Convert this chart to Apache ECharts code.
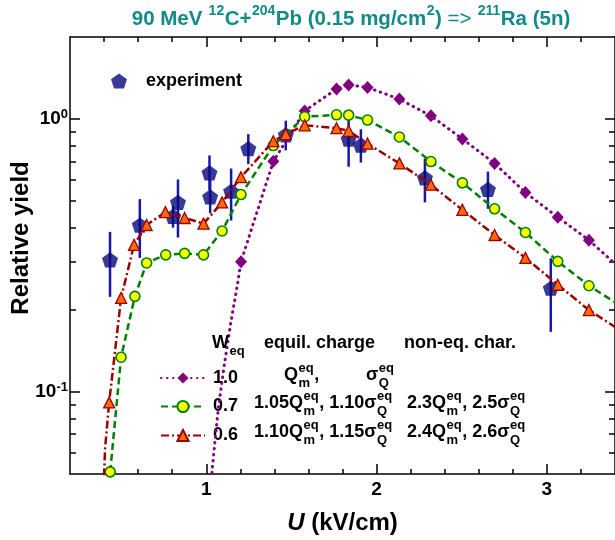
<!DOCTYPE html>
<html><head><meta charset="utf-8">
<script src="https://cdn.jsdelivr.net/npm/echarts@6/dist/echarts.min.js"></script>
<style>html,body{margin:0;padding:0;background:#fff}#c{width:615px;height:540px}</style>
</head><body><div id="c"></div>
<script>
// ---------------- data ----------------
const expX  = [0.435, 0.610, 0.805, 0.834, 1.019, 1.023, 1.146, 1.247, 1.467, 1.836, 1.908, 2.284, 2.654, 3.023];
const expY  = [0.305, 0.409, 0.440, 0.495, 0.635, 0.519, 0.544, 0.780, 0.876, 0.845, 0.803, 0.609, 0.553, 0.240];
const expLo = [0.223, 0.310, 0.400, 0.368, 0.550, 0.452, 0.425, 0.684, 0.768, 0.669, 0.693, 0.495, 0.469, 0.166];
const expHi = [0.386, 0.509, 0.480, 0.601, 0.736, 0.600, 0.659, 0.881, 0.987, 1.000, 0.918, 0.717, 0.642, 0.309];

// W_eq = 1.0 (marked points and curve-only points)
const w10X = [1.204, 1.394, 1.578, 1.765, 1.836, 1.947, 2.134, 2.319, 2.504, 2.693, 2.874, 3.064, 3.247];
const w10Y = [0.300, 0.700, 1.072, 1.289, 1.335, 1.307, 1.184, 1.028, 0.846, 0.688, 0.538, 0.437, 0.360];
const w10CurveX = [1.030, 1.048, 1.072, 1.107, 1.146, 1.183, 3.400];
const w10CurveY = [0.048, 0.063, 0.088, 0.127, 0.182, 0.247, 0.295];

// W_eq = 0.7
const w07X = [0.436, 0.500, 0.581, 0.650, 0.762, 0.873, 0.984, 1.093, 1.204, 1.394, 1.578, 1.765, 1.836, 1.947, 2.134, 2.319, 2.504, 2.693, 2.874, 3.064, 3.247];
const w07Y = [0.0509, 0.134, 0.224, 0.297, 0.318, 0.322, 0.318, 0.389, 0.529, 0.800, 1.020, 1.037, 1.034, 0.992, 0.860, 0.699, 0.584, 0.469, 0.384, 0.301, 0.245];
const w07CurveX = [3.400];
const w07CurveY = [0.213];

// W_eq = 0.6
const w06X = [0.430, 0.500, 0.576, 0.650, 0.760, 0.873, 0.984, 1.093, 1.204, 1.394, 1.467, 1.578, 1.765, 1.836, 1.947, 2.134, 2.319, 2.504, 2.693, 2.874, 3.064, 3.247];
const w06Y = [0.0915, 0.221, 0.346, 0.409, 0.456, 0.434, 0.414, 0.495, 0.6125, 0.830, 0.881, 0.949, 0.926, 0.906, 0.813, 0.688, 0.575, 0.465, 0.376, 0.310, 0.247, 0.1995];
const w06CurveX = [0.400, 0.406, 3.400];
const w06CurveY = [0.049, 0.062, 0.173];

const seriesNames = ['experiment', '1.0', '0.7', '0.6'];

// ticks and labels
const xMajorTicks = [1, 2, 3];
const xMinorTicks = [0.4, 0.6, 0.8, 1.2, 1.4, 1.6, 1.8, 2.2, 2.4, 2.6, 2.8, 3.2];
const xTickLabels = ['1', '2', '3'];
const yMajorTicks = [0.1, 1];
const yMinorTicks = [0.06, 0.07, 0.08, 0.09, 0.2, 0.3, 0.4, 0.5, 0.6, 0.7, 0.8, 0.9];
const yTickExponents = ['-1', '0'];

// ---------------- helpers ----------------
const FONT = '"Liberation Sans", Arial, Helvetica, sans-serif';
const mctx = document.createElement('canvas').getContext('2d');
function tw(s, size, weight) { mctx.font = (weight || 'bold') + ' ' + size + 'px ' + FONT; return mctx.measureText(s).width; }

function buildLine(markX, markY, curveX, curveY) {
  const pts = [];
  markX.forEach((x, i) => pts.push({ value: [x, markY[i]] }));
  curveX.forEach((x, i) => pts.push({ value: [x, curveY[i]], symbol: 'none' }));
  pts.sort((a, b) => a.value[0] - b.value[0]);
  return pts;
}

function mathText(x, cy, tokens, fs, sfs, color, align) {
  let cx = 0; const pieces = [];
  tokens.forEach(t => {
    if (typeof t === 'string' || t.t !== undefined) {
      const s = typeof t === 'string' ? t : t.t;
      const w = (typeof t === 'object' && t.w) ? t.w : 'bold';
      pieces.push({ dx: cx, dy: 0, text: s, size: fs, weight: w });
      cx += tw(s, fs, w);
    } else {
      let w = 0;
      if (t.sup) { pieces.push({ dx: cx + 0.5, dy: -0.37 * fs, text: t.sup, size: sfs, weight: 'bold' }); w = Math.max(w, tw(t.sup, sfs)); }
      if (t.sub) { pieces.push({ dx: cx + 0.5, dy: 0.45 * fs, text: t.sub, size: sfs, weight: 'bold' }); w = Math.max(w, tw(t.sub, sfs)); }
      cx += w + 1;
    }
  });
  const x0 = align === 'center' ? x - cx / 2 : x;
  return pieces.map(p => ({
    type: 'text', z: 100, x: x0 + p.dx, y: cy + p.dy, silent: true,
    style: { text: p.text, fill: color || '#000', font: p.weight + ' ' + p.size + 'px ' + FONT,
             textAlign: 'left', textVerticalAlign: 'middle', align: 'left', verticalAlign: 'middle' }
  }));
}

// ---------------- chart ----------------
const chart = echarts.init(document.getElementById('c'), null, { renderer: 'canvas' });

const pentagon = 'path://M0,-1 L0.951,-0.309 L0.588,0.809 L-0.588,0.809 L-0.951,-0.309 Z';
const axisLineStyle = { color: '#000', width: 1.5 };
function xAx(pos, major, withLabel) {
  return {
    type: 'value', position: pos, min: 0.2, max: 3.4, splitLine: { show: false },
    axisLine: { show: major, onZero: false, lineStyle: axisLineStyle },
    axisTick: { show: true, inside: true, length: major ? 10 : 5, customValues: major ? xMajorTicks : xMinorTicks, lineStyle: axisLineStyle },
    axisLabel: withLabel ? {
      show: true, customValues: xMajorTicks, margin: 6, color: '#000', fontSize: 19, fontWeight: 'bold', fontFamily: FONT,
      formatter: v => { const i = xMajorTicks.findIndex(t => Math.abs(t - v) < 1e-9); return i >= 0 ? xTickLabels[i] : ''; }
    } : { show: false },
    name: withLabel ? '{it|U}{n| (kV/cm)}' : '', nameLocation: 'middle', nameGap: 37,
    nameTextStyle: { rich: {
      it: { fontSize: 24, fontWeight: 'bold', fontStyle: 'italic', fontFamily: FONT, color: '#000' },
      n: { fontSize: 24, fontWeight: 'bold', fontFamily: FONT, color: '#000' } } }
  };
}
function yAx(pos, major, withLabel) {
  return {
    type: 'log', logBase: 10, position: pos, min: 0.05, max: 2, splitLine: { show: false },
    axisLine: { show: major, onZero: false, lineStyle: axisLineStyle },
    axisTick: { show: true, inside: true, length: major ? 10 : 6, customValues: major ? yMajorTicks : yMinorTicks, lineStyle: axisLineStyle },
    axisLabel: withLabel ? {
      show: true, customValues: yMajorTicks, margin: 2, color: '#000',
      formatter: v => { const i = yMajorTicks.findIndex(t => Math.abs(t - v) < 1e-9); return i >= 0 ? '{n|10}{sup|' + yTickExponents[i] + '}' : ''; },
      rich: {
        n: { fontSize: 19, fontWeight: 'bold', fontFamily: FONT, color: '#000', lineHeight: 22 },
        sup: { fontSize: 13, fontWeight: 'bold', fontFamily: FONT, color: '#000', lineHeight: 9, verticalAlign: 'top' } }
    } : { show: false }
  };
}

const legendText = { fontSize: 18, fontWeight: 'bold', fontFamily: FONT, color: '#000', lineHeight: 20 };
function rowLegend(name, cy) {
  return { data: [name], left: 160, top: cy - 7, padding: 0, itemWidth: 44, itemHeight: 14, selectedMode: false,
           textStyle: Object.assign({ padding: [0, 0, 0, 3] }, legendText) };
}

const graphics = [].concat(
  mathText(351, 19, ['90 MeV ', { sup: '12' }, 'C+', { sup: '204' }, 'Pb (0.15 mg/cm', { sup: '2' }, ') ', { t: '=>', w: 'normal' }, ' ', { sup: '211' }, 'Ra (5n)'], 20.5, 14, '#138a8a', 'center'),
  [{ type: 'text', z: 100, x: 21, y: 238, rotation: Math.PI / 2, silent: true,
     style: { text: 'Relative yield', fill: '#000', font: 'bold 24px ' + FONT, textAlign: 'center', textVerticalAlign: 'middle', align: 'center', verticalAlign: 'middle' } }],
  mathText(212, 343, ['W', { sub: 'eq' }], 18, 13),
  mathText(264, 343, ['equil. charge'], 18, 13),
  mathText(404, 343, ['non-eq. char.'], 18, 13),
  mathText(284, 375, ['Q', { sup: 'eq', sub: 'm' }, ','], 18, 13),
  mathText(366, 375, ['σ', { sup: 'eq', sub: 'Q' }], 18, 13),
  mathText(254, 403.5, ['1.05Q', { sup: 'eq', sub: 'm' }, ', 1.10σ', { sup: 'eq', sub: 'Q' }], 18, 13),
  mathText(407, 403.5, ['2.3Q', { sup: 'eq', sub: 'm' }, ', 2.5σ', { sup: 'eq', sub: 'Q' }], 18, 13),
  mathText(254, 432.5, ['1.10Q', { sup: 'eq', sub: 'm' }, ', 1.15σ', { sup: 'eq', sub: 'Q' }], 18, 13),
  mathText(407, 432.5, ['2.4Q', { sup: 'eq', sub: 'm' }, ', 2.6σ', { sup: 'eq', sub: 'Q' }], 18, 13)
);

const option = {
  backgroundColor: '#fff',
  animation: false,
  grid: { left: 70, top: 37, width: 548, height: 446, containLabel: false },
  xAxis: [xAx('bottom', true, true), xAx('bottom', false, false), xAx('top', true, false), xAx('top', false, false)],
  yAxis: [yAx('left', true, true), yAx('left', false, false), yAx('right', true, false), yAx('right', false, false)],
  legend: [
    { data: [seriesNames[0]], left: 111, top: 71, padding: 0, itemWidth: 16, itemHeight: 16, selectedMode: false,
      textStyle: Object.assign({ padding: [0, 0, 0, 14] }, legendText) },
    rowLegend(seriesNames[1], 375), rowLegend(seriesNames[2], 403.5), rowLegend(seriesNames[3], 432.5)
  ],
  graphic: graphics,
  series: [
    {
      type: 'custom', name: 'errors', z: 2, silent: true,
      data: expX.map((x, i) => [x, expLo[i], expHi[i]]),
      encode: { x: 0, y: [1, 2] },
      renderItem: (params, api) => {
        const a = api.coord([api.value(0), api.value(1)]);
        const b = api.coord([api.value(0), api.value(2)]);
        return { type: 'line', shape: { x1: a[0], y1: a[1], x2: b[0], y2: b[1] }, style: { stroke: '#1818a8', lineWidth: 2.5 } };
      }
    },
    {
      type: 'scatter', name: seriesNames[0], z: 3, symbol: pentagon, symbolSize: 16, symbolKeepAspect: true,
      itemStyle: { color: '#08087e' },
      data: expX.map((x, i) => [x, expY[i]])
    },
    {
      type: 'line', name: seriesNames[1], z: 4, symbol: 'diamond', symbolSize: [12, 13], showSymbol: true,
      itemStyle: { color: '#800080' },
      lineStyle: { color: '#800080', width: 3, type: [0.5, 5.5], cap: 'round' },
      data: buildLine(w10X, w10Y, w10CurveX, w10CurveY)
    },
    {
      type: 'line', name: seriesNames[2], z: 5, symbol: 'circle', symbolSize: 10, showSymbol: true,
      itemStyle: { color: '#ffff00', borderColor: '#008000', borderWidth: 1.6 },
      lineStyle: { color: '#008000', width: 2.5, type: [7, 4] },
      data: buildLine(w07X, w07Y, w07CurveX, w07CurveY)
    },
    {
      type: 'line', name: seriesNames[3], z: 6, symbol: 'triangle', symbolSize: 11, showSymbol: true,
      itemStyle: { color: '#ff6a00', borderColor: '#990000', borderWidth: 1.3 },
      lineStyle: { color: '#990000', width: 2.5, type: [8, 3, 2, 3] },
      data: buildLine(w06X, w06Y, w06CurveX, w06CurveY)
    }
  ]
};
chart.setOption(option);
</script>
</body></html>
